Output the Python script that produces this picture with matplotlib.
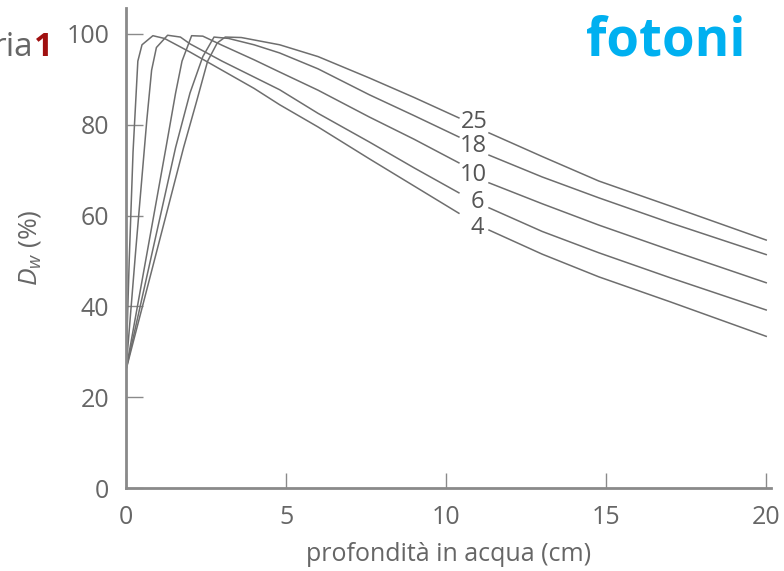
import matplotlib
matplotlib.use("Agg")
import matplotlib.pyplot as plt
import numpy as np

plt.rcParams.update({
    'font.family': ['Open Sans', 'DejaVu Sans'],
    'mathtext.fontset': 'custom',
    'mathtext.rm': 'Open Sans',
    'mathtext.it': 'Open Sans:italic',
})

# depth dose curves (photons); nan = gap for the label
x_4 = [0, 0.1, 0.22, 0.37, 0.5, 0.84, 1.2, 2, 3, 4, 4.8, 6, 7.6, 9, 10.4,
       np.nan, 11.34, 13, 14.77, 17, 20]
y_4 = [26, 50, 74, 94, 97.6, 99.6, 99, 96, 92, 88, 84.4, 79.5, 72.5, 66.5, 60.5,
       np.nan, 56.8, 51.5, 46.5, 41, 33.4]

x_6 = [0, 0.3, 0.65, 0.8, 0.95, 1.3, 1.7, 2, 3, 4.8, 6, 7.6, 9, 10.4,
       np.nan, 11.34, 13, 14.77, 17, 20]
y_6 = [26, 52, 81, 92, 97, 99.7, 99.3, 97.8, 94, 87.7, 82.5, 76.2, 70.5, 65,
       np.nan, 61.7, 56.5, 51.8, 46.3, 39.2]

x_10 = [0, 1.25, 1.55, 1.75, 2.05, 2.4, 3, 4, 4.8, 6, 7.6, 9, 10.4,
        np.nan, 11.34, 13, 14.77, 17, 20]
y_10 = [26, 75, 87, 94, 99.6, 99.5, 97.5, 94.3, 91.6, 87.6, 81.7, 76.8, 71.6,
        np.nan, 67.2, 62.6, 57.9, 52.4, 45.2]

x_18 = [0, 1.55, 2.0, 2.4, 2.75, 3.2, 4, 4.8, 6, 7.6, 9, 10.4,
        np.nan, 11.34, 13, 14.77, 17, 20]
y_18 = [26, 75, 87, 95, 99.3, 99, 97.6, 95.8, 92.3, 86.6, 82, 77.3,
        np.nan, 73.3, 68.5, 63.9, 58.4, 51.4]

x_25 = [0, 1.8, 2.2, 2.55, 2.85, 3.1, 3.6, 4.8, 6, 7.6, 9, 10.4,
        np.nan, 11.34, 13, 14.77, 17, 20]
y_25 = [26, 75, 85, 94, 98, 99.3, 99.2, 97.6, 95, 90.3, 86, 81.5,
        np.nan, 78.2, 73, 67.6, 62.1, 54.6]

energies = ['25', '18', '10', '6', '4']
label_x = [10.87, 10.84, 10.84, 10.97, 10.97]
label_y = [80.6, 75.3, 68.9, 63.0, 57.3]

fig = plt.figure(figsize=(7.84, 5.71), dpi=100)
ax = fig.add_axes([126/784, 1 - 488/571, 645/784, 480/571])

line_col = '#6e6e6e'
for xs, ys in [(x_4, y_4), (x_6, y_6), (x_10, y_10), (x_18, y_18), (x_25, y_25)]:
    ax.plot(xs, ys, color=line_col, lw=1.1)

for lab, lx, ly in zip(energies, label_x, label_y):
    ax.text(lx, ly, lab, ha='center', va='center', fontsize=17, color='#555555')

ax.set_xlim(0, 20.15)
ax.set_ylim(0, 105.7)
ax.set_xticks([0, 5, 10, 15, 20])
ax.set_yticks([0, 20, 40, 60, 80, 100])

for s in ['top', 'right']:
    ax.spines[s].set_visible(False)
for s in ['left', 'bottom']:
    ax.spines[s].set_color('#8a8a8a')
    ax.spines[s].set_linewidth(2)

ax.tick_params(axis='both', direction='in', color='#8a8a8a', width=1,
               labelsize=18, labelcolor='#666666', pad=12)
ax.tick_params(axis='x', length=11)
ax.tick_params(axis='y', length=12)

ax.set_xlabel('profondità in acqua (cm)', fontsize=18, color='#666666', labelpad=9)
ax.set_ylabel(r'$D_{w}$ (%)', fontsize=19, color='#666666', labelpad=17)

fig.text(745/784, 1 - 42/571, 'fotoni', ha='right', va='center',
         fontsize=38, fontweight='bold', color='#00b0f0')
fig.text(33/784, 1 - 48/571, 'ria', ha='right', va='center',
         fontsize=24, color='#666666')
fig.text(34/784, 1 - 48/571, '1', ha='left', va='center',
         fontsize=24, fontweight='bold', color='#a01010')

fig.savefig('out.png', dpi=100)
